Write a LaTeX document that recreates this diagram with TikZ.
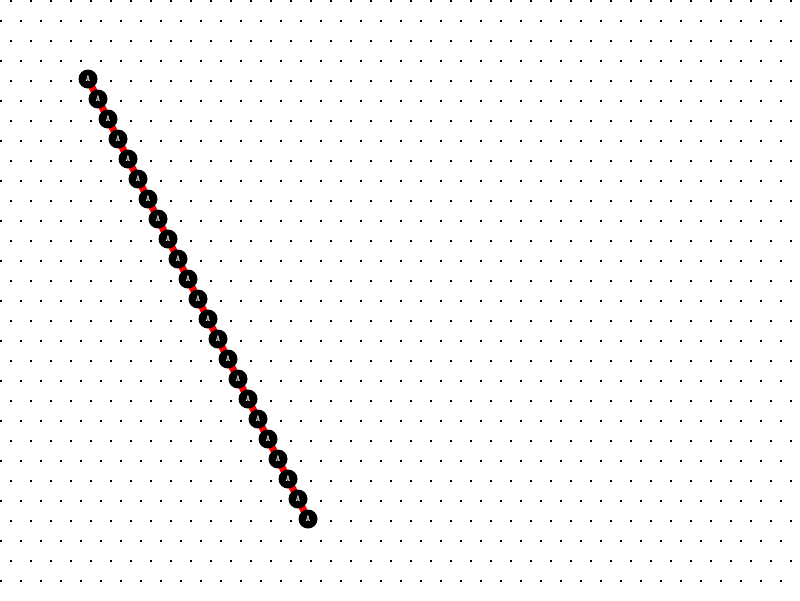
\documentclass[tikz,border=0pt]{standalone}
\usepackage{fontspec}
\usepackage{tikz}
\usetikzlibrary{backgrounds}
\definecolor{bead}{RGB}{0,0,0}
\definecolor{link}{RGB}{255,0,0}
\definecolor{griddot}{RGB}{0,0,0}

\begin{document}
\begin{tikzpicture}[x=1pt, y=-1pt,
            bead/.style = {circle, fill = bead, text = white, minimum size = 19pt, inner sep = 0pt,
                           font = \fontsize{9}{9}\selectfont\ttfamily\bfseries},
            chain link/.style = {draw = link, line width = 7pt, line cap = round}
            ]
            \useasboundingbox (0,0) rectangle (800,600);
            % dot grid, every other row shifted
            \foreach \r [evaluate = \r as \off using {10*(1-mod(\r,2))}] in {0,...,29}
                \foreach \c in {0,...,39}
                    \fill[griddot] (\c*20+\off, \r*20) rectangle ++(2,2);
            % the beads
            \foreach \i in {0,...,22}
                \node[bead] (a\i) at (88+10*\i, 79+20*\i) {A};
            % red links behind the beads
            \begin{scope}[on background layer]
                \foreach \i [remember = \i as \last (initially 0)] in {1,...,22}
                    \draw[chain link] (a\last) -- (a\i);
            \end{scope}
        \end{tikzpicture}
\end{document}
